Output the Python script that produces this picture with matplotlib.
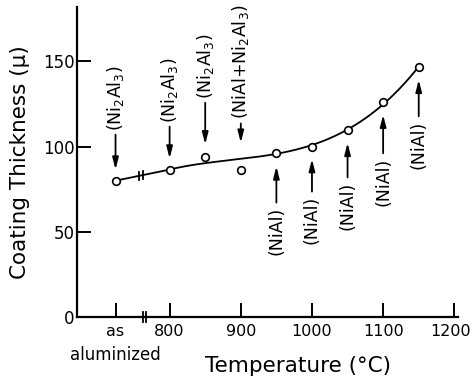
#!/usr/bin/env python3
"""Coating thickness versus aluminizing/diffusion temperature, with phase labels."""

import matplotlib
matplotlib.use("Agg")
import matplotlib.pyplot as plt
import matplotlib.transforms as mtransforms
import numpy as np

# "as aluminized" sits on its own spot left of the axis break
AS_ALUMINIZED_X = 724
AS_ALUMINIZED_THICKNESS = 80.0

temps = [800, 850, 900, 950, 1000, 1050, 1100, 1150]
thickness = [86.5, 94.0, 86.0, 96.5, 100.0, 109.5, 126.0, 146.5]
# the two scattered Ni2Al3 points are left out of the trend line
in_trend = [True, False, False, True, True, True, True, True]

x_ticks = [AS_ALUMINIZED_X, 800, 900, 1000, 1100, 1200]
x_tick_labels = ["as", "800", "900", "1000", "1100", "1200"]
y_ticks = [0, 50, 100, 150]

NI2AL3 = r"(Ni$_2$Al$_3$)"
NIAL = "(NiAl)"
MIXED = r"(NiAl+Ni$_2$Al$_3$)"
phase_labels = [NI2AL3, NI2AL3, NI2AL3, MIXED, NIAL, NIAL, NIAL, NIAL, NIAL]
# +1: label above the point with arrow pointing down, -1: below pointing up
label_side = [1, 1, 1, 1, -1, -1, -1, -1, -1]
arrow_gap_px = [8, 8, 9, 20, 10, 9, 9, 9, 9]
arrow_len_px = [38, 35, 45, 27, 40, 36, 38, 42, 40]

plt.rcParams["font.family"] = "DejaVu Sans"
plt.rcParams["mathtext.default"] = "regular"

fig = plt.figure(figsize=(4.73, 3.81), dpi=100)
ax = fig.add_axes([0.163, 0.168, 0.805, 0.814])

# smooth trend through the heat-treated points
fit_t = [t for t, keep in zip(temps, in_trend) if keep]
fit_v = [v for v, keep in zip(thickness, in_trend) if keep]
coef = np.polyfit(fit_t, fit_v, 3)
xs = np.linspace(temps[0], temps[-1], 200)
ax.plot(xs, np.polyval(coef, xs), color="black", lw=1.3, zorder=2)
ax.plot([AS_ALUMINIZED_X, temps[0]], [AS_ALUMINIZED_THICKNESS, thickness[0]],
        color="black", lw=1.3, zorder=2)

all_x = [AS_ALUMINIZED_X] + temps
all_y = [AS_ALUMINIZED_THICKNESS] + thickness
ax.plot(all_x, all_y, "o", ms=5.5, mfc="white", mec="black", mew=1.2, zorder=3)

# break marks on the connecting line and on the x axis
slope = (thickness[0] - AS_ALUMINIZED_THICKNESS) / (temps[0] - AS_ALUMINIZED_X)
for bx in (757, 762):
    by = AS_ALUMINIZED_THICKNESS + slope * (bx - AS_ALUMINIZED_X)
    ax.plot([bx, bx], [by - 2.2, by + 2.2], color="black", lw=1.3, zorder=2)
for bx in (762, 767):
    ax.plot([bx, bx], [-2.8, 2.8], color="black", lw=1.3, clip_on=False, zorder=4)

for x, y, text, side, gap, length in zip(all_x, all_y, phase_labels, label_side,
                                         arrow_gap_px, arrow_len_px):
    tail = side * (gap + length)
    ax.annotate("", xy=(x, y), xytext=(0, tail), textcoords="offset pixels",
                arrowprops=dict(arrowstyle="-|>,head_length=0.7,head_width=0.18",
                                color="black", lw=1.3, mutation_scale=10,
                                shrinkA=0, shrinkB=gap),
                annotation_clip=False)
    ax.annotate(text, xy=(x, y), xytext=(0, tail + side * 4), textcoords="offset pixels",
                rotation=90, ha="center", va="bottom" if side > 0 else "top",
                fontsize=12.5, annotation_clip=False)

ax.set_xlim(670, 1205)
ax.set_ylim(0, 182)
ax.set_xticks(x_ticks)
# the last label is drawn by hand, nudged left so it stays inside the figure
ax.set_xticklabels(x_tick_labels[:-1] + [""])
ax.annotate(x_tick_labels[-1], xy=(x_ticks[-1], 0), xytext=(-4, -7),
            textcoords="offset pixels", ha="center", va="top", fontsize=11.5,
            annotation_clip=False)
ax.set_yticks(y_ticks)

# second line of the "as aluminized" tick label
below_axis = mtransforms.blended_transform_factory(ax.transData, ax.transAxes)
ax.text(AS_ALUMINIZED_X, -0.095, "aluminized", transform=below_axis,
        ha="center", va="top", fontsize=12)

for side in ("top", "right"):
    ax.spines[side].set_visible(False)
for side in ("left", "bottom"):
    ax.spines[side].set_linewidth(1.6)

ax.tick_params(axis="both", direction="in", length=10, width=1.4, labelsize=12)
ax.tick_params(axis="y", pad=2)
ax.tick_params(axis="x", pad=5, labelsize=11.5)

ax.set_xlabel("Temperature (°C)", fontsize=15.5)
ax.set_ylabel("Coating Thickness (μ)", fontsize=15.5)
ax.xaxis.set_label_coords(0.58, -0.125)
ax.yaxis.set_label_coords(-0.125, 0.5)

fig.savefig("out.png", dpi=100)
